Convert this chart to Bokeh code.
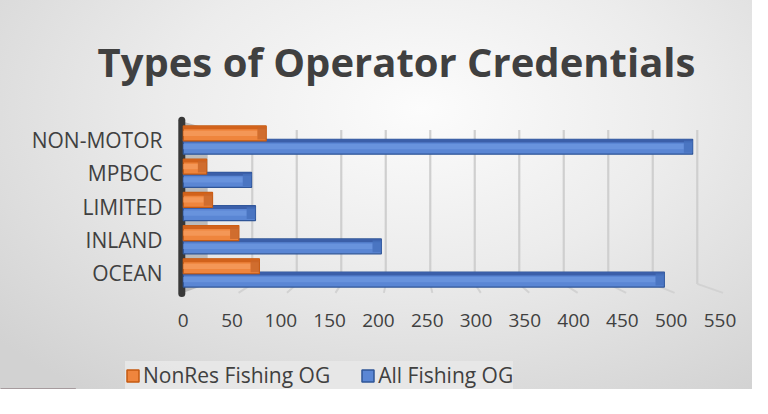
from bokeh.plotting import figure
from bokeh.layouts import column
from bokeh.models import (Range1d, FixedTicker, ColumnDataSource, Legend, LegendItem)
from bokeh.embed import file_html
from bokeh.resources import INLINE

# ---- data ----
categories = ["OCEAN", "INLAND", "LIMITED", "MPBOC", "NON-MOTOR"]
nonres_fishing = [78, 57, 30, 24, 85]
all_fishing = [493, 203, 74, 70, 522]
x_ticks = [0, 50, 100, 150, 200, 250, 300, 350, 400, 450, 500, 550]
title_text = "Types of Operator Credentials"
series_names = ["NonRes Fishing OG", "All Fishing OG"]

FONT = "Open Sans"
TXT = "#404040"
BLUE = dict(face="#5a86d4", light="#6d97e0", dark="#3b5fa9", edge="#2f5597", cap="#4670bd")
ORANGE = dict(face="#ef853d", light="#f59d60", dark="#d2621b", edge="#c55a11", cap="#c8672a")

p = figure(frame_width=566, frame_height=186,
           min_border_left=173, min_border_right=13,
           min_border_top=113, min_border_bottom=46,
           x_range=Range1d(-10, 570), y_range=Range1d(-0.8, 4.8),
           output_backend="svg", toolbar_location=None)
p.frame_align = False
p.border_fill_alpha = 0
p.background_fill_alpha = 0
p.outline_line_color = None
p.xgrid.visible = False
p.ygrid.visible = False

# title
p.title.text = title_text
p.title.text_font = FONT
p.title.text_font_style = "bold"
p.title.text_font_size = "40px"
p.title.text_color = TXT
p.title.align = "left"
p.title.offset = -76
p.title.standoff = 50

# axes
p.xaxis.ticker = FixedTicker(ticks=x_ticks)
p.yaxis.ticker = FixedTicker(ticks=list(range(len(categories))))
p.yaxis.major_label_overrides = {i: c for i, c in enumerate(categories)}
for ax in (p.xaxis[0], p.yaxis[0]):
    ax.axis_line_color = None
    ax.major_tick_line_color = None
    ax.minor_tick_line_color = None
    ax.major_tick_out = 0
    ax.major_tick_in = 0
    ax.major_label_text_font = FONT
    ax.major_label_text_color = TXT
p.yaxis.major_label_text_font_size = "21px"
p.xaxis.major_label_text_font_size = "19px"
p.yaxis.major_label_standoff = 11
p.xaxis.major_label_standoff = 14

# ---- 3D-ish decorations derived from tick values ----
grid_vals = x_ticks[1:]
back_x = [25.1 + 0.912 * t for t in grid_vals]
front_x = [7 + 0.993 * t for t in grid_vals]
p.segment(x0=back_x, y0=[4.3] * len(back_x), x1=back_x, y1=[-0.33] * len(back_x),
          line_color="#cfcfcf", line_width=2.2)
p.segment(x0=back_x, y0=[-0.33] * len(back_x), x1=front_x, y1=[-0.6] * len(back_x),
          line_color="#d2d2d2", line_width=2)
# side wall
p.patch(x=[0, 25, 25, 0], y=[4.55, 4.35, -0.33, -0.6], fill_color="#b3b3b3",
        fill_alpha=0.85, line_color=None)
# dark axis wall
p.segment(x0=[-1.5], y0=[4.6], x1=[-1.5], y1=[-0.62], line_color="#383838",
          line_width=7, line_cap="round")

# ---- bars ----
ys = list(range(len(categories)))
h = 0.45
o_src = ColumnDataSource(dict(
    y=[y + 0.2 for y in ys], v=nonres_fishing,
    cap=[max(v - 9, 0) for v in nonres_fishing],
    top=[y + 0.2 + h / 2 - 0.05 for y in ys]))
b_src = ColumnDataSource(dict(
    y=[y - 0.2 for y in ys], v=all_fishing,
    cap=[max(v - 9, 0) for v in all_fishing],
    top=[y - 0.2 + h / 2 - 0.05 for y in ys]))

def draw_bar(src, c):
    r = p.hbar(y="y", left=0, right="v", height=h, source=src,
               fill_color=c["face"], line_color=c["edge"], line_width=1.2)
    p.hbar(y="y", left=0, right="cap", height=h * 0.35, source=src,
           fill_color=c["light"], fill_alpha=0.75, line_color=None)
    p.hbar(y="top", left=0, right="v", height=0.1, source=src,
           fill_color=c["dark"], line_color=None)
    p.hbar(y="y", left="cap", right="v", height=h * 0.8, source=src,
           fill_color=c["cap"], fill_alpha=0.8, line_color=None)
    return r

draw_bar(b_src, BLUE)
draw_bar(o_src, ORANGE)

# ---- legend strip ----
lg = figure(width=752, height=44, min_border=0, x_axis_type=None, y_axis_type=None,
            x_range=Range1d(0, 1), y_range=Range1d(0, 1),
            output_backend="svg", toolbar_location=None)
lg.frame_align = False
lg.border_fill_alpha = 0
lg.background_fill_alpha = 0
lg.outline_line_color = None
lg.xgrid.visible = False
lg.ygrid.visible = False
# legend swatches (kept outside the visible range)
lo = lg.hbar(y=[-5], left=[0], right=[0.1], height=0.5, fill_color=ORANGE["face"],
             line_color=ORANGE["edge"], line_width=1.5)
lb = lg.hbar(y=[-5], left=[0], right=[0.1], height=0.5, fill_color=BLUE["face"],
             line_color=BLUE["edge"], line_width=1.5)
legend = Legend(items=[LegendItem(label=series_names[0], renderers=[lo]),
                       LegendItem(label=series_names[1], renderers=[lb])],
                orientation="horizontal", location=(125, 0),
                glyph_width=15, glyph_height=15, label_standoff=3, spacing=30,
                padding=8, margin=0,
                label_text_font=FONT, label_text_font_size="21px",
                label_text_color=TXT,
                background_fill_color="#e8e8e8", background_fill_alpha=0.9,
                border_line_color=None)
lg.add_layout(legend)

layout = column(p, lg, spacing=0)
layout.styles = {"background-image":
                 "radial-gradient(ellipse 75% 90% at 56% 28%, #fcfcfc 0%, #ececec 45%, #d2d2d2 100%)"}

open("out.html", "w").write(file_html(layout, INLINE))
